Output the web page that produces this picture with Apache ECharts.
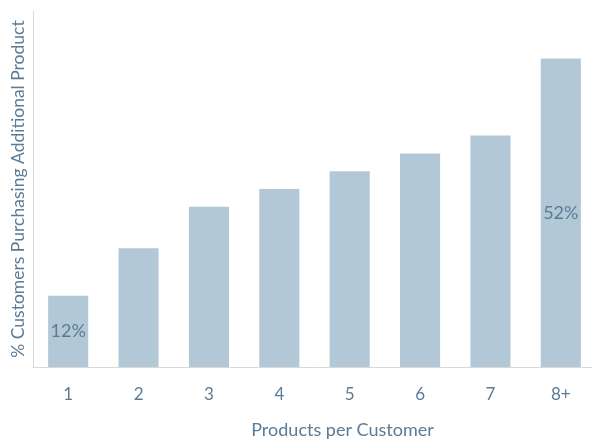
<!DOCTYPE html>
<html><head><meta charset="utf-8">
<script src="https://cdn.jsdelivr.net/npm/echarts@6/dist/echarts.min.js"></script>
<style>html,body{margin:0;padding:0;background:#fff}#c{width:592px;height:439px}</style>
</head><body><div id="c"></div>
<script>
const categories = ['1','2','3','4','5','6','7','8+'];
const values = [12, 20, 27, 30, 33, 36, 39, 52];
const labeled = [true, false, false, false, false, false, false, true];
const textColor = '#5b7b96';
const chart = echarts.init(document.getElementById('c'));
chart.setOption({
  animation: false,
  grid: {left: 33, right: -4, top: 11, bottom: 72, containLabel: false, outerBoundsMode: 'none'},
  xAxis: {
    type: 'category', data: categories,
    axisLine: {lineStyle: {color: '#d9d9d9', width: 1}},
    axisTick: {show: false},
    axisLabel: {color: textColor, fontFamily: 'Lato', fontSize: 17, margin: 19},
    name: 'Products per Customer', nameLocation: 'middle', nameGap: 54,
    nameTextStyle: {color: textColor, fontFamily: 'Lato', fontSize: 18, padding: [0, 0, 0, 56]}
  },
  yAxis: {
    type: 'value', min: 0, max: 60,
    axisLine: {show: true, lineStyle: {color: '#d9d9d9', width: 1}},
    axisTick: {show: false}, axisLabel: {show: false}, splitLine: {show: false},
    name: '% Customers Purchasing Additional Product', nameLocation: 'middle', nameGap: 6,
    nameTextStyle: {color: textColor, fontFamily: 'Lato', fontSize: 17.5}
  },
  series: [{
    type: 'bar', barWidth: '57%',
    itemStyle: {color: '#b3c8d6'},
    data: values.map((v, i) => ({
      value: v,
      label: {show: labeled[i], position: 'inside', formatter: v + '%', color: textColor, fontFamily: 'Lato', fontSize: 18}
    }))
  }]
});
</script></body></html>
